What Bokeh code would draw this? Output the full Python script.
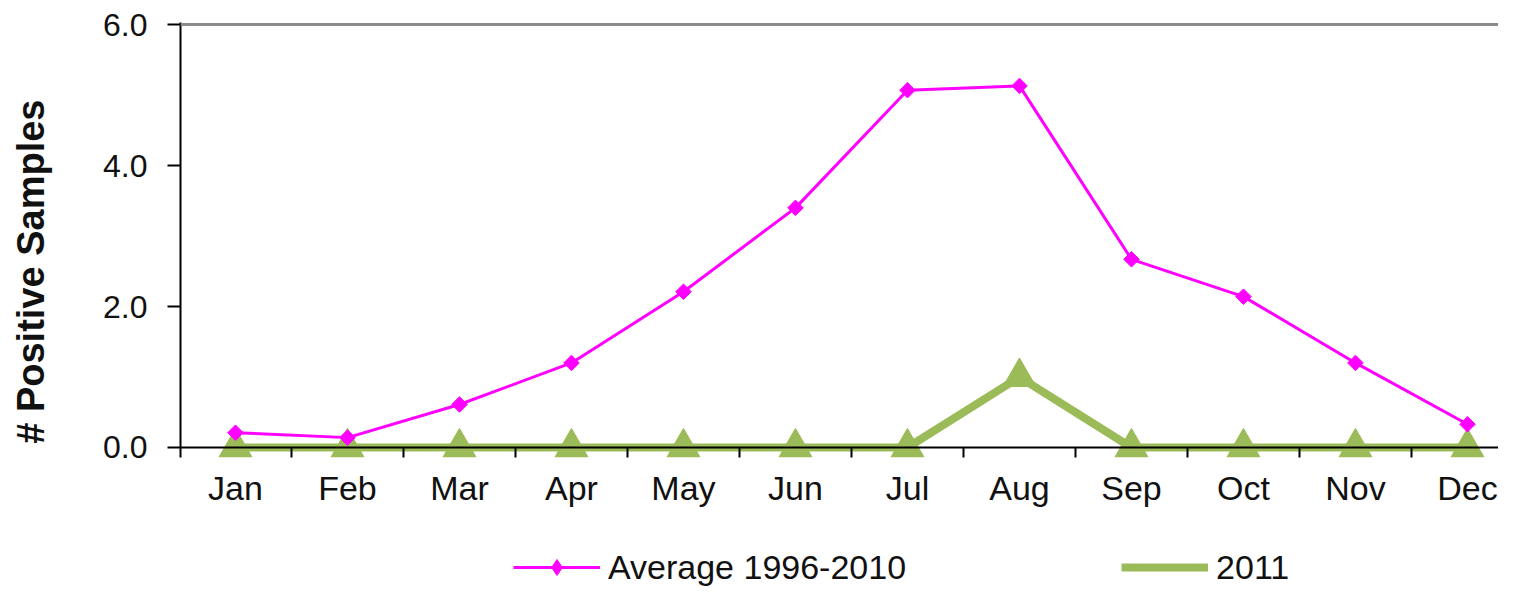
import numpy as np
from bokeh.plotting import figure
from bokeh.layouts import column
from bokeh.models import (Range1d, FixedTicker, Span, Legend, LegendItem, NumeralTickFormatter)
from bokeh.embed import file_html
from bokeh.resources import INLINE

months = ["Jan", "Feb", "Mar", "Apr", "May", "Jun", "Jul", "Aug", "Sep", "Oct", "Nov", "Dec"]
avg_1996_2010 = [0.21, 0.14, 0.61, 1.20, 2.21, 3.40, 5.07, 5.13, 2.67, 2.14, 1.20, 0.33]
values_2011 = [0, 0, 0, 0, 0, 0, 0, 1.0, 0, 0, 0, 0]
y_ticks = [0, 2, 4, 6]
series_names = ["Average 1996-2010", "2011"]
y_title = "# Positive Samples"

x = list(range(len(months)))
FONT = "Liberation Sans"
TXT = "#111111"
GREEN = "#9BBB59"
MAGENTA = "#FF00FF"

p = figure(width=1498, height=509, output_backend="svg", toolbar_location=None,
           x_range=Range1d(-0.491, 11.277), y_range=Range1d(-0.142, 6.03),
           min_border_left=180, min_border_right=0, min_border_top=22, min_border_bottom=52)
p.outline_line_color = None
p.xgrid.visible = False
p.ygrid.visible = False
p.background_fill_color = "white"

# top border line and x axis baseline
p.add_layout(Span(location=6.0, dimension="width", line_color="#8a8a8a", line_width=3))
p.add_layout(Span(location=0.0, dimension="width", line_color="black", line_width=2))

# x axis
xa = p.xaxis[0]
xa.ticker = FixedTicker(ticks=x, minor_ticks=[i - 0.5 for i in range(len(months) + 1)])
xa.major_label_overrides = {i: m for i, m in zip(x, months)}
xa.major_tick_out = 0
xa.major_tick_in = 0
xa.minor_tick_out = 0
xa.minor_tick_in = 10
xa.minor_tick_line_color = "black"
xa.minor_tick_line_width = 2
xa.axis_line_color = None
xa.major_label_standoff = 11
xa.major_label_text_font = FONT
xa.major_label_text_font_size = "34px"
xa.major_label_text_color = TXT

# y axis
ya = p.yaxis[0]
ya.ticker = FixedTicker(ticks=y_ticks)
ya.formatter = NumeralTickFormatter(format="0.0")
ya.major_tick_out = 13
ya.major_tick_in = 0
ya.minor_tick_out = 0
ya.minor_tick_in = 0
ya.major_tick_line_color = "black"
ya.major_tick_line_width = 2
ya.axis_line_color = "black"
ya.axis_line_width = 2
ya.major_label_standoff = 20
ya.major_label_text_font = FONT
ya.major_label_text_font_size = "32px"
ya.major_label_text_color = TXT
# trailing no-break spaces shift the centred title towards the bottom, as in the reference
ya.axis_label = y_title + "\u00a0" * 6
ya.axis_label_text_font = FONT
ya.axis_label_text_font_style = "bold"
ya.axis_label_text_font_size = "38px"
ya.axis_label_text_color = TXT
ya.axis_label_standoff = 48

p.line(x, values_2011, line_color=GREEN, line_width=8)
p.scatter(x, values_2011, marker="triangle", size=33, fill_color=GREEN, line_color=GREEN)
p.line(x, avg_1996_2010, line_color=MAGENTA, line_width=3)
p.scatter(x, avg_1996_2010, marker="square", angle=np.pi / 4, size=11,
          fill_color=MAGENTA, line_color=MAGENTA)

# legend strip below the chart (same series, ranges placed so only the legend shows)
lg = figure(width=1498, height=78, output_backend="svg", toolbar_location=None,
            x_range=Range1d(100, 101), y_range=Range1d(100, 101),
            x_axis_type=None, y_axis_type=None,
            min_border_left=180, min_border_right=0, min_border_top=0, min_border_bottom=0)
lg.outline_line_color = None
lg.xgrid.visible = False
lg.ygrid.visible = False

lg_m_line = lg.line(x, avg_1996_2010, line_color=MAGENTA, line_width=3)
lg_m_pts = lg.scatter(x, avg_1996_2010, marker="diamond", size=18,
                      fill_color=MAGENTA, line_color=MAGENTA)
lg_g_line = lg.line(x, values_2011, line_color=GREEN, line_width=8)

legend = Legend(items=[LegendItem(label=series_names[0], renderers=[lg_m_line, lg_m_pts]),
                       LegendItem(label=series_names[1], renderers=[lg_g_line])],
                location=(333, 0), orientation="horizontal",
                glyph_width=87, glyph_height=40, label_height=28, label_standoff=8,
                spacing=215, padding=0, margin=0, border_line_color=None,
                background_fill_alpha=0,
                label_text_font=FONT, label_text_font_size="34px", label_text_color=TXT)
lg.add_layout(legend)

layout = column(p, lg, spacing=0)
open("out.html", "w").write(file_html(layout, INLINE))
